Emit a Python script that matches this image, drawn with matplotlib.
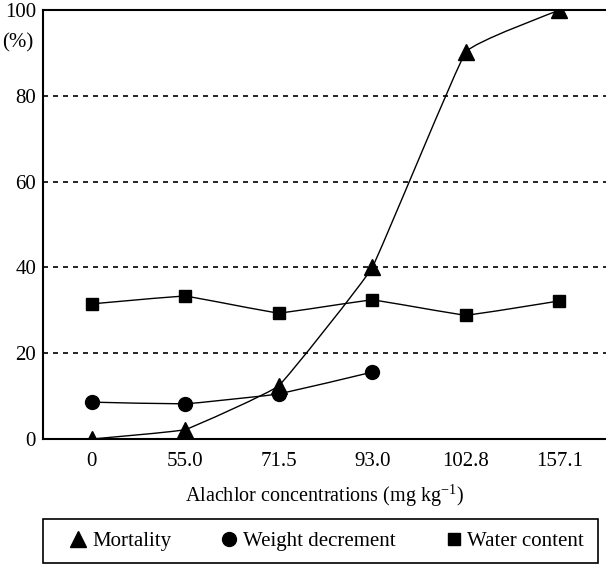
import numpy as np
import matplotlib
matplotlib.use("Agg")
import matplotlib.pyplot as plt
from matplotlib.path import Path
from matplotlib.patches import PathPatch, Rectangle

plt.rcParams['font.family'] = ['Liberation Serif', 'DejaVu Serif']
plt.rcParams['mathtext.fontset'] = 'custom'
plt.rcParams['mathtext.rm'] = 'Liberation Serif'

# data
concentrations = ["0", "55.0", "71.5", "93.0", "102.8", "157.1"]
mortality = [0, 2.2, 12.4, 40.0, 90.2, 100.0]
weight_decrement = [8.6, 8.2, 10.5, 15.6]
water_content = [31.5, 33.3, 29.4, 32.4, 28.9, 32.2]


def smooth_path(xs, ys, tension=0.04):
    # light bezier smoothing through the points (drawing only)
    xs = np.asarray(xs, float)
    ys = np.asarray(ys, float)
    verts = [(xs[0], ys[0])]
    codes = [Path.MOVETO]
    n = len(xs)
    for i in range(n - 1):
        p0 = i - 1 if i > 0 else i
        p3 = i + 2 if i + 2 < n else i + 1
        c1 = (xs[i] + (xs[i + 1] - xs[p0]) * tension, ys[i] + (ys[i + 1] - ys[p0]) * tension)
        c2 = (xs[i + 1] - (xs[p3] - xs[i]) * tension, ys[i + 1] - (ys[p3] - ys[i]) * tension)
        verts += [c1, c2, (xs[i + 1], ys[i + 1])]
        codes += [Path.CURVE4] * 3
    return Path(verts, codes)


fig = plt.figure(figsize=(6.06, 5.65), dpi=100)
ax = fig.add_axes([0.071, 0.223, 0.929, 0.759])

x = np.arange(len(concentrations))
series = [
    (mortality, "^", 11, "Mortality"),
    (weight_decrement, "o", 10, "Weight decrement"),
    (water_content, "s", 9, "Water content"),
]
handles = []
for vals, mk, ms, lab in series:
    xs = x[:len(vals)]
    ax.add_patch(PathPatch(smooth_path(xs, vals), facecolor="none", edgecolor="black", lw=1.0, zorder=2))
    h, = ax.plot(xs, vals, linestyle="none", marker=mk, markersize=ms, color="black", zorder=3, label=lab)
    handles.append(h)

for g in [20, 40, 60, 80]:
    ax.axhline(g, color="black", lw=1.2, linestyle=(0, (3, 3)), zorder=1)

ax.set_xlim(-0.52, 5.5)
ax.set_ylim(0, 100)
ax.set_xticks(x)
ax.set_xticklabels(concentrations)
ax.set_yticks([0, 20, 40, 60, 80, 100])
ax.tick_params(length=0, labelsize=15)
ax.tick_params(axis="x", pad=9)
ax.tick_params(axis="y", pad=5)
for s in ["left", "bottom", "top"]:
    ax.spines[s].set_linewidth(1.5)
ax.spines["right"].set_visible(False)

ax.set_xlabel("Alachlor concentrations (mg kg$^{-1}$)", fontsize=14.5, labelpad=8)
fig.text(0.03, 0.925, "(%)", fontsize=15, ha="center", va="center")

# legend box drawn separately so entries can be spaced like the original
fig.patches.append(Rectangle((0.071, 0.004), 0.916, 0.077, transform=fig.transFigure,
                             facecolor="none", edgecolor="black", lw=1.2))
leg = fig.legend(handles=handles, loc="center", ncol=3,
                 bbox_to_anchor=(0.538, 0.042), fontsize=15,
                 frameon=False, handletextpad=0.15, columnspacing=2.3,
                 handlelength=1.0, borderaxespad=0)

fig.savefig("out.png", dpi=100)
